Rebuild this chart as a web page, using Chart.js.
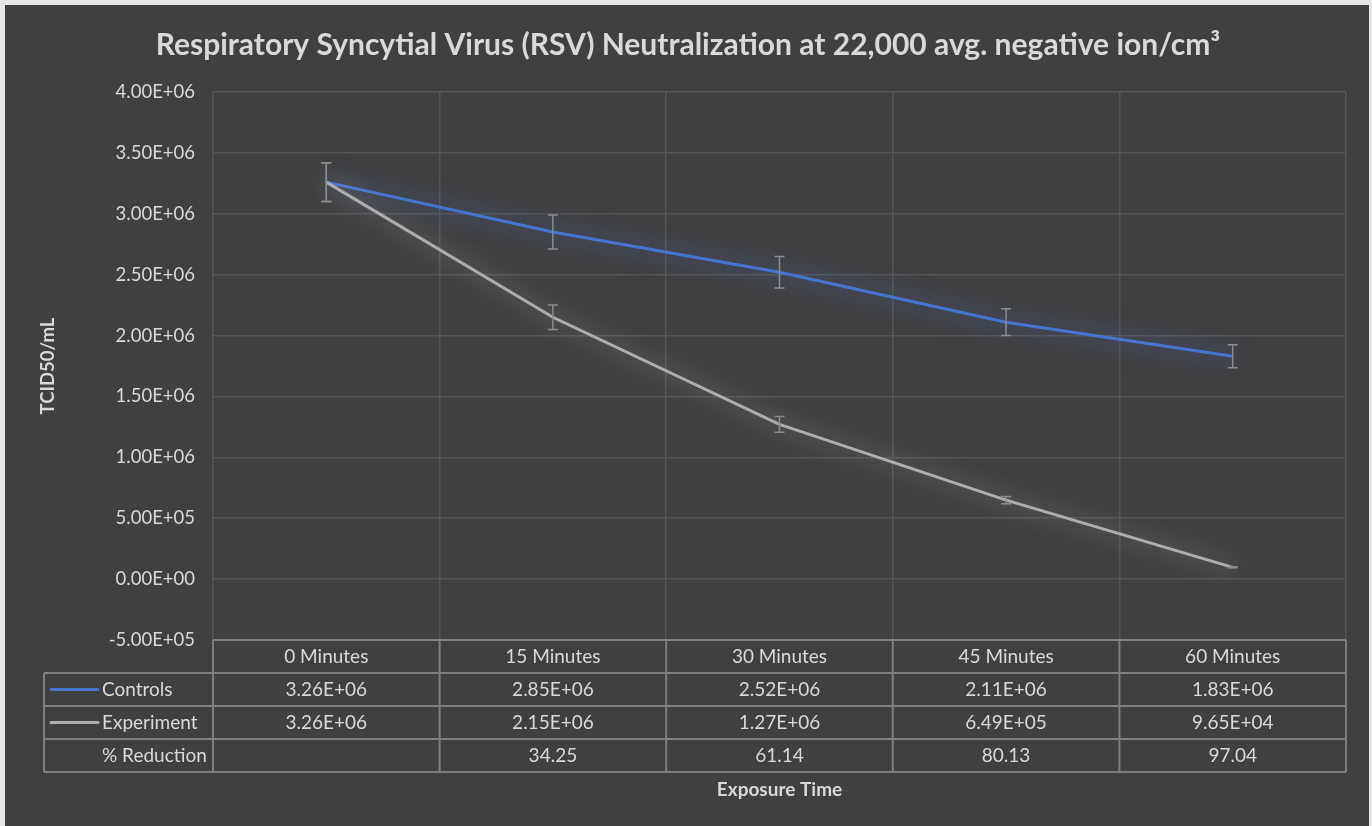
<!DOCTYPE html>
<html>
<head>
<meta charset="utf-8">
<script src="https://cdn.jsdelivr.net/npm/chart.js@4"></script>
<style>
  html, body { margin: 0; padding: 0; background: #ffffff; }
  #wrap { width: 1372px; height: 826px; position: relative; }
  canvas { display: block; }
</style>
</head>
<body>
<div id="wrap"><canvas id="c" width="1372" height="826"></canvas></div>
<script>
const categories = ['0 Minutes', '15 Minutes', '30 Minutes', '45 Minutes', '60 Minutes'];
const controls = [3.26e6, 2.85e6, 2.52e6, 2.11e6, 1.83e6];
const experiment = [3.26e6, 2.15e6, 1.27e6, 6.49e5, 9.65e4];
const controlsErr = [0.16e6, 0.14e6, 0.13e6, 0.11e6, 0.095e6];
const experimentErr = [0.16e6, 0.10e6, 0.065e6, 0.03e6, 0.004e6];
const reduction = [null, 34.25, 61.14, 80.13, 97.04];
const yTicks = { min: -5e5, max: 4e6, step: 5e5 };

const FONT = "Lato, 'Open Sans', sans-serif";
const TXT = '#d9d9d9';
const BLUE = '#4674d1';
const GRAY = '#adadad';

function fmt(v) {
  if (Math.abs(v) < 1e-9) return '0.00E+00';
  let e = Math.floor(Math.log10(Math.abs(v)) + 1e-9);
  let m = v / Math.pow(10, e);
  return m.toFixed(2) + 'E' + (e < 0 ? '-' : '+') + String(Math.abs(e)).padStart(2, '0');
}

const bgPlugin = {
  id: 'bg',
  beforeDraw(chart) {
    const ctx = chart.ctx;
    ctx.save();
    ctx.fillStyle = '#e6e6e6';
    ctx.fillRect(0, 0, chart.width, chart.height);
    ctx.fillStyle = '#404040';
    ctx.fillRect(5, 5, 1364, chart.height);
    ctx.restore();
  }
};

const glowPlugin = {
  id: 'glow',
  beforeDatasetDraw(chart, args) {
    const ctx = chart.ctx;
    ctx.save();
    const ds = chart.data.datasets[args.index];
    ctx.shadowColor = ds.glowColor;
    ctx.shadowBlur = 22;
  },
  afterDatasetDraw(chart) {
    chart.ctx.restore();
  }
};

const errPlugin = {
  id: 'errbars',
  afterDatasetsDraw(chart) {
    const ctx = chart.ctx;
    const xs = chart.scales.x, ys = chart.scales.y;
    const sets = [[experiment, experimentErr], [controls, controlsErr]];
    ctx.save();
    ctx.strokeStyle = '#8c8c8c';
    ctx.lineWidth = 1.5;
    sets.forEach(([vals, errs]) => {
      vals.forEach((v, i) => {
        const x = xs.getPixelForValue(i);
        const y1 = ys.getPixelForValue(v + errs[i]);
        const y2 = ys.getPixelForValue(v - errs[i]);
        ctx.beginPath();
        ctx.moveTo(x, y1); ctx.lineTo(x, y2);
        ctx.moveTo(x - 5, y1); ctx.lineTo(x + 5, y1);
        ctx.moveTo(x - 5, y2); ctx.lineTo(x + 5, y2);
        ctx.stroke();
      });
    });
    ctx.restore();
  }
};

const tablePlugin = {
  id: 'dtable',
  afterDraw(chart) {
    const ctx = chart.ctx;
    const xs = chart.scales.x;
    const area = chart.chartArea;
    const rowH = 33;
    const top = area.bottom;
    const leftEdge = 44;
    const n = categories.length;
    const band = (area.right - area.left) / n;
    ctx.save();
    ctx.strokeStyle = '#7f7f7f';
    ctx.lineWidth = 2;
    ctx.beginPath();
    ctx.moveTo(area.left, top); ctx.lineTo(area.right, top);
    for (let r = 1; r <= 4; r++) {
      ctx.moveTo(leftEdge, top + r * rowH); ctx.lineTo(area.right, top + r * rowH);
    }
    ctx.moveTo(leftEdge, top + rowH); ctx.lineTo(leftEdge, top + 4 * rowH);
    for (let i = 0; i <= n; i++) {
      const x = area.left + i * band;
      ctx.moveTo(x, top); ctx.lineTo(x, top + 4 * rowH);
    }
    ctx.stroke();

    ctx.fillStyle = TXT;
    ctx.font = "19px " + FONT;
    ctx.textBaseline = 'middle';
    ctx.textAlign = 'center';
    categories.forEach((c, i) => {
      const x = xs.getPixelForValue(i);
      ctx.fillText(c, x, top + rowH * 0.5);
      ctx.fillText(fmt(controls[i]), x, top + rowH * 1.5);
      ctx.fillText(fmt(experiment[i]), x, top + rowH * 2.5);
      if (reduction[i] !== null) ctx.fillText(reduction[i].toFixed(2), x, top + rowH * 3.5);
    });
    ctx.textAlign = 'left';
    ctx.fillText('Controls', 102, top + rowH * 1.5);
    ctx.fillText('Experiment', 102, top + rowH * 2.5);
    ctx.fillText('% Reduction', 102, top + rowH * 3.5);
    ctx.lineWidth = 3;
    ctx.lineCap = 'round';
    ctx.strokeStyle = BLUE;
    ctx.beginPath(); ctx.moveTo(51, top + rowH * 1.5); ctx.lineTo(98, top + rowH * 1.5); ctx.stroke();
    ctx.strokeStyle = GRAY;
    ctx.beginPath(); ctx.moveTo(51, top + rowH * 2.5); ctx.lineTo(98, top + rowH * 2.5); ctx.stroke();
    ctx.restore();
  }
};

new Chart(document.getElementById('c'), {
  type: 'line',
  data: {
    labels: categories,
    datasets: [
      { label: 'Experiment', data: experiment, borderColor: GRAY, glowColor: 'rgba(205,205,205,0.65)', borderWidth: 3, pointRadius: 0, tension: 0 },
      { label: 'Controls', data: controls, borderColor: BLUE, glowColor: 'rgba(70,116,215,1)', borderWidth: 3, pointRadius: 0, tension: 0 }
    ]
  },
  options: {
    responsive: false,
    animation: false,
    layout: { padding: { left: 30, right: 26, top: 0, bottom: 0 } },
    plugins: {
      legend: { display: false },
      tooltip: { enabled: false },
      title: {
        display: true,
        text: 'Respiratory Syncytial Virus (RSV) Neutralization at 22,000 avg. negative ion/cm³',
        color: TXT,
        font: { family: FONT, size: 30, weight: 'bold' },
        padding: { top: 27, bottom: 29 }
      }
    },
    scales: {
      x: {
        offset: true,
        grid: { offset: true, color: '#555555', drawTicks: false, lineWidth: 1.5 },
        border: { display: false },
        ticks: { display: false },
        title: { display: true, text: 'Exposure Time', color: TXT, font: { family: FONT, size: 19, weight: 'bold' }, padding: { top: 0, bottom: 25 } },
        afterFit(s) { s.height = 186; }
      },
      y: {
        min: yTicks.min, max: yTicks.max,
        ticks: { stepSize: yTicks.step, color: TXT, font: { family: FONT, size: 18.5 }, padding: 18, callback: v => fmt(v) },
        grid: { color: '#555555', drawTicks: false, lineWidth: 1.5 },
        border: { display: false },
        title: { display: true, text: 'TCID50/mL', color: TXT, font: { family: FONT, size: 18.5, weight: 'bold' }, padding: { top: 7, bottom: 0 } },
        afterFit(s) { s.width = 183; }
      }
    }
  },
  plugins: [bgPlugin, glowPlugin, errPlugin, tablePlugin]
});
</script>
</body>
</html>
